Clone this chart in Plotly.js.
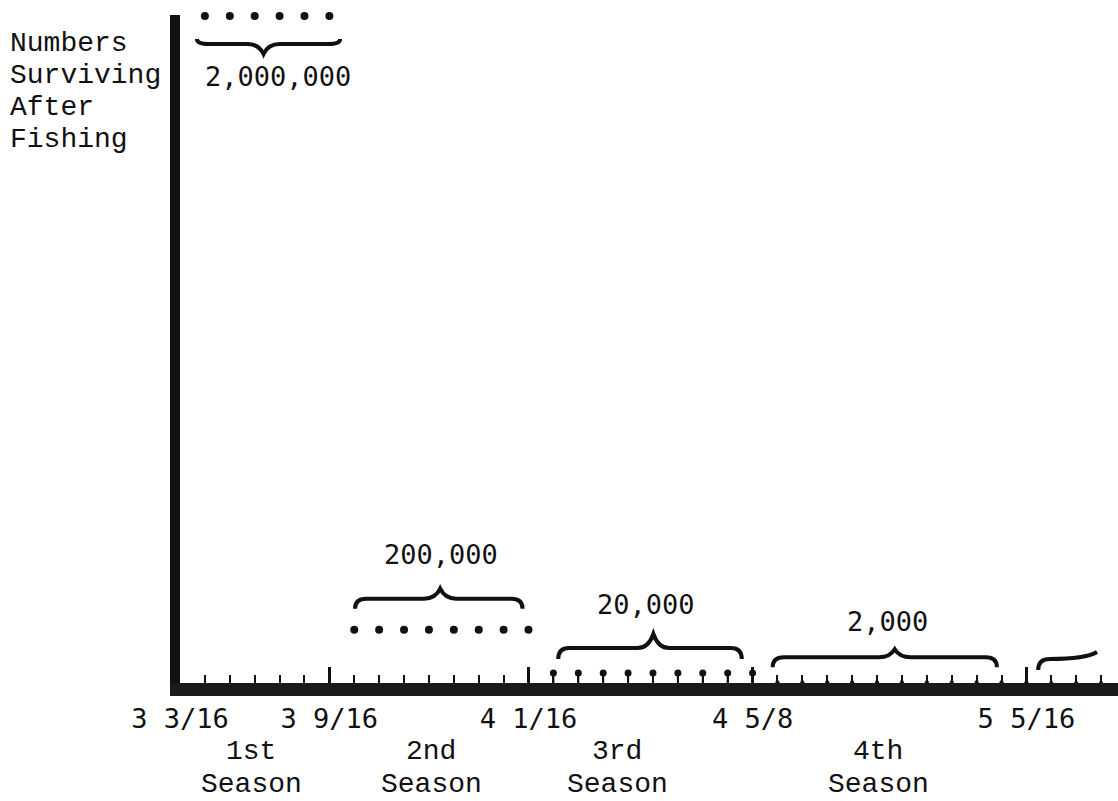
<!DOCTYPE html>
<html>
<head>
<meta charset="utf-8">
<script src="https://cdn.plot.ly/plotly-3.0.1.min.js"></script>
<style>html,body{margin:0;padding:0;background:#fff;}#chart{width:1118px;height:801px;}</style>
</head>
<body>
<div id="chart"></div>
<script>
// ---- data (fish length in inches, numbers surviving after fishing) ----
const lengths1 = [3.25, 3.3125, 3.375, 3.4375, 3.5, 3.5625];
const survivors1 = [2000000, 2000000, 2000000, 2000000, 2000000, 2000000];
const lengths2 = [3.625, 3.6875, 3.75, 3.8125, 3.875, 3.9375, 4.0, 4.0625];
const survivors2 = [160000, 160000, 160000, 160000, 160000, 160000, 160000, 160000];
const lengths3 = [4.125, 4.1875, 4.25, 4.3125, 4.375, 4.4375, 4.5, 4.5625, 4.625];
const survivors3 = [30000, 30000, 30000, 30000, 30000, 30000, 30000, 30000, 30000];
const lengths4 = [4.6875, 4.75, 4.8125, 4.875, 4.9375, 5.0, 5.0625, 5.125, 5.1875, 5.25, 5.3125];
const survivors4 = [2000, 2000, 2000, 2000, 2000, 2000, 2000, 2000, 2000, 2000, 2000];
const lengths5 = [5.375, 5.4375, 5.5];
const survivors5 = [200, 200, 200];
const groupLabels = ['2,000,000', '200,000', '20,000', '2,000', ''];
const seasonNames = ['1st', '2nd', '3rd', '4th'];
const tickVals = [3.1875, 3.5625, 4.0625, 4.625, 5.3125];
const tickText = ['3 3/16', '3 9/16', '4 1/16', '4 5/8', '5 5/16'];
const yTitleLines = ['Numbers', 'Surviving', 'After', 'Fishing'];

// ---- styling / placement (not data) ----
const INK = '#111';
const monoSans = 'DejaVu Sans Mono, monospace';
const typewriter = 'Liberation Mono, Courier New, monospace';
const groups = [
  {x: lengths1, y: survivors1, size: 8, stems: false},
  {x: lengths2, y: survivors2, size: 8, stems: false},
  {x: lengths3, y: survivors3, size: 7, stems: true},
  {x: lengths4, y: survivors4, size: 4, stems: true},
  {x: lengths5, y: survivors5, size: 4, stems: true}
];
// brace geometry: offsets of ends from first/last point (inches), tip shift, pixel heights
const braceStyle = [
  {a: -0.020, b: 0.027, tip: -0.009, e: -23, body: -28, t: -38, lab: 0.027, ly: -60},
  {a: 0.002, b: -0.015, tip: -0.003, e: 21, body: 31, t: 41, lab: -0.002, ly: 75},
  {a: 0.012, b: -0.027, tip: 0.001, e: 14, body: 25, t: 39, lab: -0.018, ly: 69},
  {a: -0.012, b: -0.074, tip: -0.018, e: 15, body: 25, t: 33, lab: -0.037, ly: 61},
  {a: -0.033, b: -0.010, partial: true, e: 13, body: 24, t: 31}
];
const seasonLabelX = [3.3658, 3.8177, 4.2847, 4.94];

const traces = groups.map(g => {
  const tr = {
    type: 'scatter', mode: 'markers', x: g.x, y: g.y, cliponaxis: false,
    marker: {color: INK, size: g.size, line: {width: 0}}, hoverinfo: 'skip'
  };
  if (g.stems) {
    tr.error_y = {type: 'percent', symmetric: false, value: 0, valueminus: 100,
                  width: 0, thickness: 2, color: INK};
  }
  return tr;
});

const shapes = [];
const annotations = [];
groups.forEach((g, i) => {
  const s = braceStyle[i];
  const first = g.x[0], last = g.x[g.x.length - 1];
  const x0 = first + s.a, x1 = last + s.b;
  const anchor = g.y[0];
  let path;
  if (s.partial) {
    path = `M${x0},${s.e} Q${x0},${s.body} ${x0 + 0.03},${s.body} Q${x1 - 0.03},${s.body} ${x1},${s.t}`;
  } else {
    const xt = (first + last) / 2 + s.tip;
    const d = 0.028, w = 0.04;
    path = `M${x0},${s.e} Q${x0},${s.body} ${x0 + d},${s.body} ` +
           `L${xt - w},${s.body} Q${xt - w * 0.3},${s.body} ${xt},${s.t} ` +
           `Q${xt + w * 0.3},${s.body} ${xt + w},${s.body} ` +
           `L${x1 - d},${s.body} Q${x1},${s.body} ${x1},${s.e}`;
    annotations.push({
      x: (first + last) / 2 + s.lab, y: anchor, xref: 'x', yref: 'y',
      yshift: s.ly, text: groupLabels[i], showarrow: false,
      xanchor: 'center', yanchor: 'middle',
      font: {family: monoSans, size: 27, color: INK}
    });
  }
  shapes.push({
    type: 'path', xref: 'x', yref: 'y', ysizemode: 'pixel', yanchor: anchor,
    path: path, line: {color: INK, width: 4}, layer: 'above'
  });
});

seasonNames.forEach((name, i) => {
  annotations.push({x: seasonLabelX[i], y: 0, xref: 'x', yref: 'y', yshift: -68,
    text: name, showarrow: false, xanchor: 'center', yanchor: 'middle',
    font: {family: typewriter, size: 28, color: INK}});
  annotations.push({x: seasonLabelX[i], y: 0, xref: 'x', yref: 'y', yshift: -101,
    text: 'Season', showarrow: false, xanchor: 'center', yanchor: 'middle',
    font: {family: typewriter, size: 28, color: INK}});
});

// plot top sits at 15px; paper y=1 is there
yTitleLines.forEach((line, i) => {
  annotations.push({x: -0.1834, y: 1, xref: 'paper', yref: 'paper', yshift: -28 - 32 * i,
    text: line, showarrow: false, xanchor: 'left', yanchor: 'middle',
    font: {family: typewriter, size: 28, color: INK}});
});

const layout = {
  width: 1118, height: 801,
  margin: {l: 180, r: 0, t: 15, b: 118},
  paper_bgcolor: '#fff', plot_bgcolor: '#fff',
  showlegend: false,
  xaxis: {
    range: [3.1875, 5.5425], showgrid: false, zeroline: false,
    showline: true, linecolor: '#1a1a1a', linewidth: 13,
    tickmode: 'array', tickvals: tickVals, ticktext: tickText,
    ticks: 'inside', ticklen: 16, tickwidth: 3, tickcolor: INK,
    tickfont: {family: monoSans, size: 27, color: INK},
    minor: {tickmode: 'linear', tick0: 3.1875, dtick: 0.0625, ticks: 'inside',
            ticklen: 8, tickwidth: 2, tickcolor: INK, showgrid: false}
  },
  yaxis: {
    range: [0, 2003000], showgrid: false, zeroline: false,
    showline: true, linecolor: INK, linewidth: 10,
    showticklabels: false, ticks: ''
  },
  shapes: shapes,
  annotations: annotations
};

Plotly.newPlot('chart', traces, layout, {staticPlot: true, displayModeBar: false});
</script>
</body>
</html>
